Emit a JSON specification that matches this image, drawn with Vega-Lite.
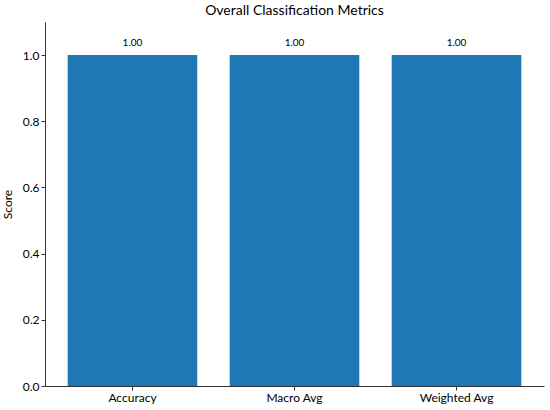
{
  "$schema": "https://vega.github.io/schema/vega-lite/v6.json",
  "width": 499,
  "height": 364,
  "autosize": {"type": "none"},
  "padding": {"left": 45, "top": 22, "right": 6, "bottom": 24},
  "title": {"text": "Overall Classification Metrics", "font": "Lato", "fontSize": 14, "fontWeight": "normal", "color": "#000", "offset": 4},
  "config": {
    "view": {"stroke": null},
    "font": "Lato"
  },
  "data": {
    "values": [
      {"metric": "Accuracy", "score": 1.0},
      {"metric": "Macro Avg", "score": 1.0},
      {"metric": "Weighted Avg", "score": 1.0}
    ]
  },
  "encoding": {
    "x": {
      "field": "metric", "type": "nominal", "sort": null,
      "scale": {"paddingInner": 0.2, "paddingOuter": 0.14},
      "axis": {"title": null, "labelAngle": 0, "labelFontSize": 12, "labelColor": "#000", "domainColor": "#333", "tickColor": "#333", "tickSize": 4, "labelPadding": 2}
    },
    "y": {
      "field": "score", "type": "quantitative",
      "scale": {"domain": [0, 1.1], "nice": false},
      "axis": {"title": "Score", "values": [0, 0.2, 0.4, 0.6, 0.8, 1.0], "format": ".1f", "grid": false, "labelFontSize": 12, "labelColor": "#000", "titleFontSize": 12, "titleFontWeight": "normal", "titleColor": "#000", "domainColor": "#333", "tickColor": "#333", "tickSize": 4, "labelPadding": 2, "titlePadding": 8}
    }
  },
  "layer": [
    {"mark": {"type": "bar", "color": "#1f77b4"}},
    {"mark": {"type": "text", "baseline": "bottom", "dy": -7, "fontSize": 10, "color": "#000"}, "encoding": {"text": {"field": "score", "type": "quantitative", "format": ".2f"}}}
  ]
}
